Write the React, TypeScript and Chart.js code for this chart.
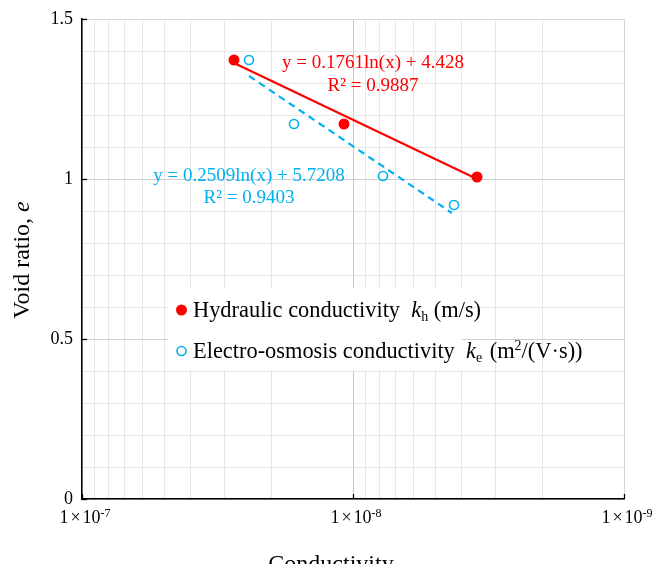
import React, { useEffect, useRef } from "react";
import { Chart, registerables } from "chart.js";

Chart.register(...registerables);

// ---- data ----
const hydX = [2.75e-8, 1.08e-8, 3.48e-9];
const hydY = [1.372, 1.172, 1.007];
const eoX = [2.43e-8, 1.65e-8, 7.77e-9, 4.24e-9];
const eoY = [1.372, 1.172, 1.009, 0.919];
const hydTrendX = [2.75e-8, 3.48e-9];
const hydTrendY = [1.362, 0.999];
const eoTrendX = [2.41e-8, 4.3e-9];
const eoTrendY = [1.322, 0.893];
const yTickValues = [0, 0.5, 1, 1.5];
const yTickLabels = ["0", "0.5", "1", "1.5"];
const xTickExponents = [-7, -8, -9];
const hydLabel = ["y = 0.1761ln(x) + 4.428", "R² = 0.9887"];
const eoLabel = ["y = 0.2509ln(x) + 5.7208", "R² = 0.9403"];
const xTitle = "Conductivity";
const yTitle = "Void ratio, ";

const FONT = "'Liberation Serif', 'Times New Roman', serif";
const RED = "#ff0000";
const BLUE = "#00b0f0";

type Run = { text: string; size: number; italic?: boolean; dy?: number; pre?: number; post?: number };

function measureRuns(ctx: CanvasRenderingContext2D, runs: Run[]) {
  let w = 0;
  for (const r of runs) {
    ctx.font = `${r.italic ? "italic " : ""}${r.size}px ${FONT}`;
    w += (r.pre || 0) + ctx.measureText(r.text).width + (r.post || 0);
  }
  return w;
}

function drawRuns(ctx: CanvasRenderingContext2D, x: number, y: number, runs: Run[], color: string) {
  let cx = x;
  ctx.fillStyle = color;
  ctx.textAlign = "left";
  ctx.textBaseline = "alphabetic";
  for (const r of runs) {
    ctx.font = `${r.italic ? "italic " : ""}${r.size}px ${FONT}`;
    cx += r.pre || 0;
    ctx.fillText(r.text, cx, y + (r.dy || 0));
    cx += ctx.measureText(r.text).width + (r.post || 0);
  }
  return cx;
}

const overlayPlugin = {
  id: "overlay",
  afterDraw(chart: any) {
    const ctx: CanvasRenderingContext2D = chart.ctx;
    const xs = chart.scales.x;
    const ys = chart.scales.y;
    const area = chart.chartArea;
    ctx.save();

    // inward ticks
    ctx.strokeStyle = "#000";
    ctx.lineWidth = 1.3;
    for (const v of yTickValues) {
      const py = Math.round(ys.getPixelForValue(v)) + 0.5;
      ctx.beginPath();
      ctx.moveTo(area.left, py);
      ctx.lineTo(area.left + 5, py);
      ctx.stroke();
    }
    for (const e of xTickExponents) {
      const px = Math.round(xs.getPixelForValue(Math.pow(10, e))) + 0.5;
      ctx.beginPath();
      ctx.moveTo(px, area.bottom);
      ctx.lineTo(px, area.bottom - 5);
      ctx.stroke();
    }

    // y tick labels
    ctx.fillStyle = "#000";
    ctx.font = `18px ${FONT}`;
    ctx.textAlign = "right";
    ctx.textBaseline = "middle";
    yTickValues.forEach((v, i) => {
      ctx.fillText(yTickLabels[i], area.left - 9, ys.getPixelForValue(v));
    });

    // x tick labels 1×10^n
    for (const e of xTickExponents) {
      const px = xs.getPixelForValue(Math.pow(10, e));
      const runs: Run[] = [
        { text: "1", size: 18 },
        { text: "×", size: 18, pre: 2, post: 2 },
        { text: "10", size: 18 },
        { text: String(e), size: 12, dy: -6 },
      ];
      const total = measureRuns(ctx, runs);
      drawRuns(ctx, px + 3 - total / 2, 523, runs, "#000");
    }

    // axis titles
    ctx.fillStyle = "#000";
    ctx.font = `24px ${FONT}`;
    ctx.textAlign = "center";
    ctx.textBaseline = "alphabetic";
    ctx.fillText(xTitle, (area.left + area.right) / 2 - 22, 571);

    ctx.save();
    ctx.translate(29, 260);
    ctx.rotate(-Math.PI / 2);
    const yRuns: Run[] = [
      { text: yTitle, size: 24 },
      { text: "e", size: 24, italic: true },
    ];
    const wy = measureRuns(ctx, yRuns);
    drawRuns(ctx, -wy / 2, 0, yRuns, "#000");
    ctx.restore();

    // trend equations
    ctx.textAlign = "center";
    ctx.textBaseline = "middle";
    ctx.font = `19px ${FONT}`;
    ctx.fillStyle = RED;
    ctx.fillText(hydLabel[0], 373, 63);
    ctx.fillText(hydLabel[1], 373, 86);
    ctx.fillStyle = BLUE;
    ctx.fillText(eoLabel[0], 249, 176);
    ctx.fillText(eoLabel[1], 249, 198);

    // legend
    ctx.fillStyle = "#ffffff";
    ctx.fillRect(168, 288, 294, 82);
    ctx.beginPath();
    ctx.arc(181.5, 310, 5.5, 0, Math.PI * 2);
    ctx.fillStyle = RED;
    ctx.fill();
    ctx.beginPath();
    ctx.arc(181.5, 351, 4.5, 0, Math.PI * 2);
    ctx.strokeStyle = BLUE;
    ctx.lineWidth = 1.6;
    ctx.stroke();
    drawRuns(ctx, 193, 317, [
      { text: "Hydraulic conductivity  ", size: 22.4 },
      { text: "k", size: 22.4, italic: true },
      { text: "h", size: 14, dy: 4 },
      { text: " (m/s)", size: 22.4 },
    ], "#000");
    drawRuns(ctx, 193, 358, [
      { text: "Electro-osmosis conductivity  ", size: 22.4 },
      { text: "k", size: 22.4, italic: true },
      { text: "e", size: 14, dy: 4 },
      { text: " (m", size: 22.4, pre: 2 },
      { text: "2", size: 14, dy: -8 },
      { text: "/(V·s))", size: 22.4 },
    ], "#000");

    ctx.restore();
  },
};

function isDecade(v: number) {
  const l = Math.log10(v);
  return Math.abs(l - Math.round(l)) < 1e-6;
}

export default function App() {
  const ref = useRef<HTMLCanvasElement | null>(null);
  useEffect(() => {
    if (!ref.current) return;
    const chart = new Chart(ref.current, {
      type: "scatter",
      data: {
        datasets: [
          {
            label: "Hydraulic conductivity",
            data: hydX.map((x, i) => ({ x, y: hydY[i] })),
            pointRadius: 5.5,
            pointBackgroundColor: RED,
            pointBorderColor: RED,
            pointBorderWidth: 0,
            order: 0,
          },
          {
            label: "Electro-osmosis conductivity",
            data: eoX.map((x, i) => ({ x, y: eoY[i] })),
            pointRadius: 4.5,
            pointBackgroundColor: "rgba(0,0,0,0)",
            pointBorderColor: BLUE,
            pointBorderWidth: 1.6,
            order: 0,
          },
          {
            label: "hyd trend",
            data: hydTrendX.map((x, i) => ({ x, y: hydTrendY[i] })),
            showLine: true,
            borderColor: RED,
            borderWidth: 2.2,
            pointRadius: 0,
            order: 1,
          },
          {
            label: "eo trend",
            data: eoTrendX.map((x, i) => ({ x, y: eoTrendY[i] })),
            showLine: true,
            borderColor: BLUE,
            borderWidth: 2.2,
            borderDash: [7, 5],
            pointRadius: 0,
            order: 1,
          },
        ],
      },
      options: {
        responsive: false,
        animation: false,
        layout: { padding: { left: 82, top: 19, right: 32, bottom: 65 } },
        plugins: { legend: { display: false }, tooltip: { enabled: false } },
        scales: {
          x: {
            type: "logarithmic",
            min: 1e-9,
            max: 1e-7,
            reverse: true,
            alignToPixels: true,
            afterBuildTicks: (scale: any) => {
              const t: any[] = [];
              for (let e = -9; e < -7; e++) {
                for (let m = 1; m < 10; m++) t.push({ value: m * Math.pow(10, e) });
              }
              t.push({ value: 1e-7 });
              scale.ticks = t;
            },
            ticks: { display: false },
            grid: {
              drawTicks: false,
              lineWidth: 1,
              color: (c: any) => {
                const v = c.tick ? c.tick.value : 0;
                if (Math.abs(v - 1e-8) / 1e-8 < 1e-6) return "#c8c8c8";
                if (isDecade(v)) return "#d6d6d6";
                return "#e6e6e6";
              },
            },
            border: { display: true, color: "#000", width: 1.5 },
          },
          y: {
            type: "linear",
            min: 0,
            max: 1.5,
            alignToPixels: true,
            ticks: { display: false, stepSize: 0.1 },
            grid: {
              drawTicks: false,
              lineWidth: 1,
              color: (c: any) => {
                const v = c.tick ? c.tick.value : 0;
                const k = Math.round(v * 10);
                if (k === 15) return "#d6d6d6";
                if (k % 5 === 0) return "#cdcdcd";
                return "#e6e6e6";
              },
            },
            border: { display: true, color: "#000", width: 1.5 },
          },
        },
      },
      plugins: [overlayPlugin],
    } as any);
    return () => chart.destroy();
  }, []);
  return (
    <div style={{ position: "fixed", left: 0, top: 0, width: 656, height: 564, background: "#fff" }}>
      <canvas ref={ref} width={656} height={564} style={{ display: "block", width: 656, height: 564 }} />
    </div>
  );
}
